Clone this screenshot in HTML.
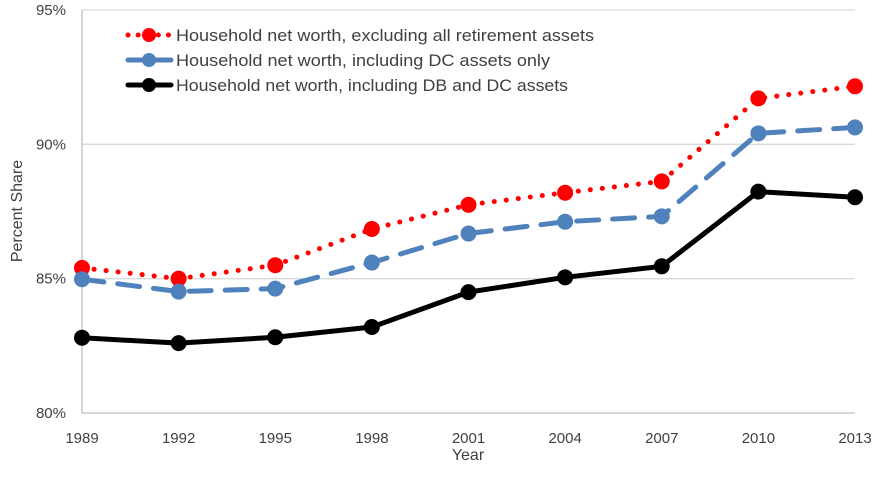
<!DOCTYPE html>
<html><head><meta charset="utf-8"><style>
body{margin:0;background:#fff;font-family:"Liberation Sans",sans-serif;}
svg text{font-family:"Liberation Sans",sans-serif;fill:#404040;}
</style></head><body>
<svg width="892" height="478">
<g id="grid"></g><g id="axes"></g><g id="series"></g><g id="legend"></g>
</svg>
<script>
const years=[1989,1992,1995,1998,2001,2004,2007,2010,2013];
const yTicks=[80,85,90,95];
const exclAll=[85.4,85.0,85.5,86.85,87.75,88.2,88.62,91.71,92.16];
const inclDC=[84.98,84.52,84.63,85.6,86.68,87.12,87.32,90.41,90.63];
const inclDBDC=[82.8,82.6,82.82,83.2,84.5,85.05,85.46,88.24,88.03];
const legendWidths=[418,374,392];
const NS='http://www.w3.org/2000/svg';
const x0=82,x1=855,y80=413,y95=10;
const xs=i=>x0+(x1-x0)*i/(years.length-1);
const ys=v=>y80-(v-80)/15*(y80-y95);
function mk(tag,attrs,parent){const e=document.createElementNS(NS,tag);for(const k in attrs)e.setAttribute(k,attrs[k]);parent.appendChild(e);return e;}
const grid=document.getElementById('grid'),axes=document.getElementById('axes'),ser=document.getElementById('series'),leg=document.getElementById('legend');
yTicks.forEach(t=>{
  const l=mk('line',{x1:x0,x2:x1,y1:ys(t),y2:ys(t),stroke:t===80?'#bfbfbf':'#d9d9d9','stroke-width':1.3},grid);
  
  
  const tx=mk('text',{x:x0-16,y:ys(t)+5,'text-anchor':'end','font-size':15},axes);
  tx.textContent=t+'%';
  
  
});
const ax=mk('line',{x1:x0,x2:x0,y1:y95,y2:y80,stroke:'#bfbfbf','stroke-width':1.3},axes);


years.forEach((yr,i)=>{
  const tx=mk('text',{x:xs(i),y:y80+30,'text-anchor':'middle','font-size':15},axes);
  tx.textContent=yr;
  
  
});
const xt=mk('text',{x:468,y:460,'text-anchor':'middle','font-size':16},axes);xt.textContent='Year';


const yt=mk('text',{x:0,y:0,'text-anchor':'middle','font-size':16,transform:'translate(22,211) rotate(-90)'},axes);yt.textContent='Percent Share';


const defs=[
 {name:'excluding-retirement',data:exclAll,color:'#ff0000',dash:'0.1 12',w:5,r:8,label:'Household net worth, excluding all retirement assets'},
 {name:'including-dc',data:inclDC,color:'#4f81bd',dash:'22 14',w:5,r:8,label:'Household net worth, including DC assets only'},
 {name:'including-db-dc',data:inclDBDC,color:'#000000',dash:'',w:5,r:8,label:'Household net worth, including DB and DC assets'}
];
defs.forEach((s,k)=>{
  const g=mk('g',{},ser);
  
  
  const pts=s.data.map((v,i)=>xs(i)+','+ys(v)).join(' ');
  const pl=mk('polyline',{points:pts,fill:'none',stroke:s.color,'stroke-width':s.w,'stroke-dasharray':s.dash,'stroke-linecap':'round','stroke-linejoin':'round'},g);
  
  
  s.data.forEach((v,i)=>{
    const c=mk('circle',{cx:xs(i),cy:ys(v),r:s.r,fill:s.color},g);
    
    
  });
  const ly=35+k*25;
  const lg=mk('g',{},leg);
  
  
  mk('line',{x1:128,x2:171,y1:ly,y2:ly,stroke:s.color,'stroke-width':s.w,'stroke-dasharray':s.dash?(k===0?'0.1 10':'16 12'):'','stroke-linecap':'round'},lg);
  mk('circle',{cx:149,cy:ly,r:s.r-1,fill:s.color},lg);
  const t=mk('text',{x:176,y:ly+6,'font-size':16.5,textLength:legendWidths[k],lengthAdjust:'spacingAndGlyphs'},lg);t.textContent=s.label;
});
</script>
</body></html>
